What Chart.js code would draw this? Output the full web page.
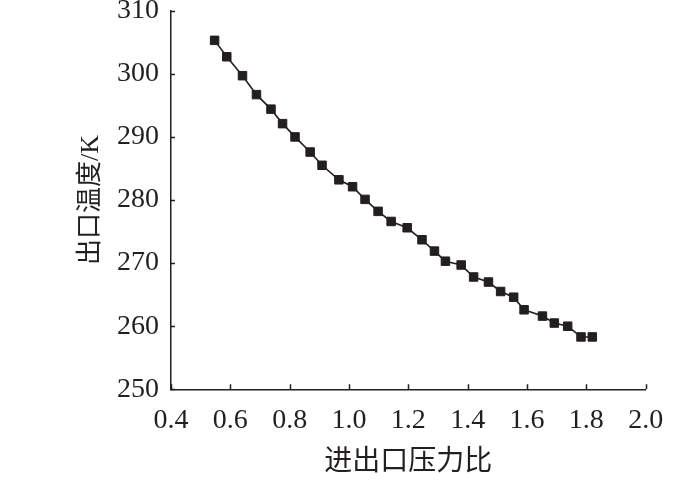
<!DOCTYPE html>
<html>
<head>
<meta charset="utf-8">
<script src="https://cdn.jsdelivr.net/npm/chart.js@4.4.1/dist/chart.umd.min.js"></script>
<style>
  html, body { margin: 0; padding: 0; background: #ffffff; }
  #c { display: block; }
</style>
</head>
<body>
<canvas id="c" width="700" height="483"></canvas>
<script>
// ---- data ----
const pressureRatio = [
  0.547, 0.588, 0.641, 0.688, 0.737, 0.776, 0.818, 0.869, 0.909, 0.966,
  1.012, 1.054, 1.098, 1.142, 1.196, 1.246, 1.288, 1.325, 1.378, 1.420,
  1.470, 1.511, 1.555, 1.590, 1.652, 1.692, 1.737, 1.782, 1.820
];
const outletTemp = [
  305.3, 302.7, 299.7, 296.7, 294.4, 292.1, 290.0, 287.6, 285.5, 283.2,
  282.1, 280.1, 278.2, 276.6, 275.6, 273.7, 271.9, 270.3, 269.7, 267.8,
  267.0, 265.5, 264.6, 262.6, 261.6, 260.5, 260.0, 258.3, 258.3
];
const xTickValues = [0.4, 0.6, 0.8, 1.0, 1.2, 1.4, 1.6, 1.8, 2.0];
const xTickLabels = ['0.4', '0.6', '0.8', '1.0', '1.2', '1.4', '1.6', '1.8', '2.0'];
const yTickValues = [250, 260, 270, 280, 290, 300, 310];
const yTickLabels = ['250', '260', '270', '280', '290', '300', '310'];
const xTitle = '进出口压力比';
const yTitle = '出口温度/K';

const INK = '#231f20';
const SERIF = "'Liberation Serif', 'Noto Sans CJK SC', serif";

const points = pressureRatio.map((x, i) => ({ x: x, y: outletTemp[i] }));

// inward tick marks drawn from the library's scales
const inwardTicks = {
  id: 'inwardTicks',
  afterDraw(chart) {
    const ctx = chart.ctx;
    const xs = chart.scales.x, ys = chart.scales.y;
    const area = chart.chartArea;
    ctx.save();
    ctx.strokeStyle = INK;
    ctx.lineWidth = 1.5;
    ctx.beginPath();
    xs.ticks.forEach(t => {
      const px = Math.round(xs.getPixelForValue(t.value)) + 0.5;
      ctx.moveTo(px, area.bottom);
      ctx.lineTo(px, area.bottom - 5);
    });
    ys.ticks.forEach(t => {
      const py = Math.round(ys.getPixelForValue(t.value)) + 0.5;
      ctx.moveTo(area.left, py);
      ctx.lineTo(area.left + 4, py);
    });
    ctx.stroke();
    ctx.restore();
  }
};

new Chart(document.getElementById('c'), {
  type: 'scatter',
  data: {
    datasets: [{
      data: points,
      showLine: true,
      borderColor: INK,
      borderWidth: 1.6,
      pointStyle: 'rect',
      pointRadius: 6,
      pointBackgroundColor: INK,
      pointBorderColor: INK,
      pointBorderWidth: 1,
      tension: 0
    }]
  },
  options: {
    responsive: false,
    animation: false,
    devicePixelRatio: 1,
    layout: { padding: { top: 10.7, right: 54.3, bottom: 0, left: 0 } },
    plugins: {
      legend: { display: false },
      tooltip: { enabled: false }
    },
    scales: {
      x: {
        type: 'linear',
        min: 0.4,
        max: 2.0,
        afterBuildTicks(scale) { scale.ticks = xTickValues.map(v => ({ value: v })); },
        afterFit(scale) {
          scale.height = 93.7;
          scale.paddingLeft = 0; scale.paddingRight = 0;
        },
        grid: { display: false },
        border: { display: true, color: INK, width: 1.5 },
        ticks: {
          color: INK,
          padding: 7,
          maxRotation: 0,
          autoSkip: false,
          font: { family: SERIF, size: 28, lineHeight: 1.2 },
          callback: (v, i) => xTickLabels[i]
        },
        title: {
          display: true,
          text: xTitle,
          color: INK,
          padding: { top: 0, bottom: 4 },
          font: { family: SERIF, size: 28, lineHeight: 1.2 }
        }
      },
      y: {
        type: 'linear',
        min: 250,
        max: 310,
        afterBuildTicks(scale) { scale.ticks = yTickValues.map(v => ({ value: v })); },
        afterFit(scale) {
          scale.width = 171;
          scale.paddingTop = 0; scale.paddingBottom = 0;
        },
        grid: { display: false },
        border: { display: true, color: INK, width: 1.5 },
        ticks: {
          color: INK,
          padding: 4,
          autoSkip: false,
          font: { family: SERIF, size: 28, lineHeight: 1.2 },
          callback: (v, i) => yTickLabels[i]
        },
        title: {
          display: true,
          text: yTitle,
          color: INK,
          padding: { top: 76, bottom: 0 },
          font: { family: SERIF, size: 26, lineHeight: 1.2 }
        }
      }
    }
  },
  plugins: [inwardTicks]
});
</script>
</body>
</html>
